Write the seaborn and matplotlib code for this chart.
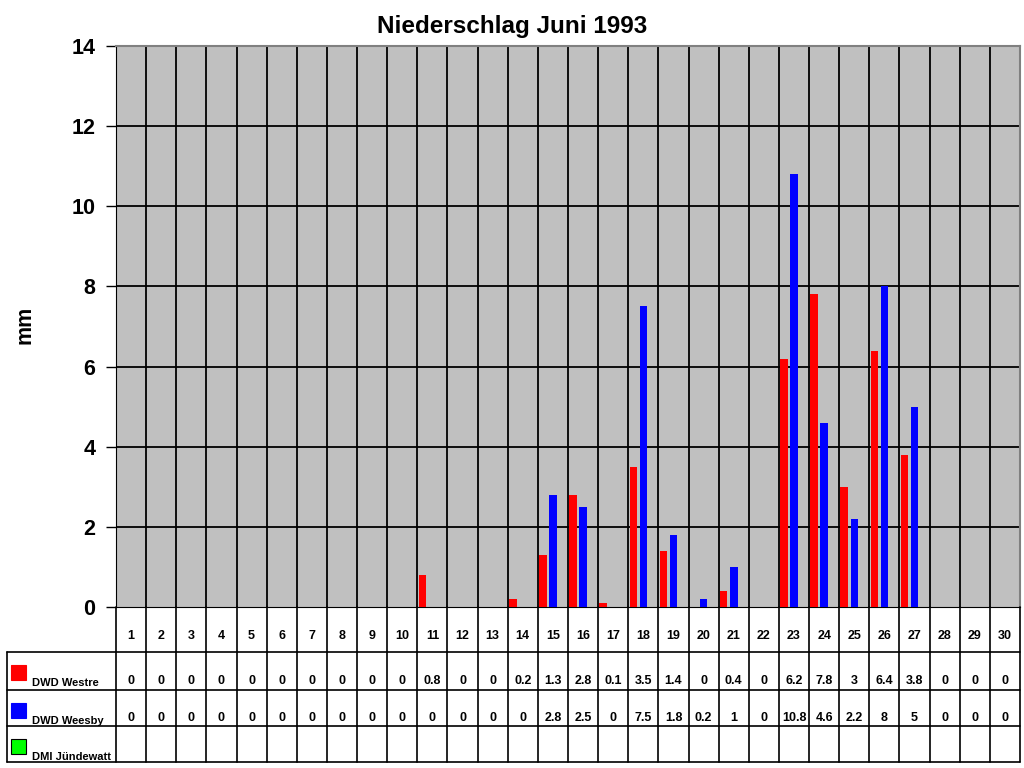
import numpy as np
import pandas as pd
import matplotlib
matplotlib.use("Agg")
import matplotlib.pyplot as plt
import seaborn as sns

# Niederschlag Juni 1993 (mm per day)
days = list(range(1, 31))
westre = [0, 0, 0, 0, 0, 0, 0, 0, 0, 0, 0.8, 0, 0, 0.2, 1.3, 2.8, 0.1, 3.5, 1.4, 0,
          0.4, 0, 6.2, 7.8, 3, 6.4, 3.8, 0, 0, 0]
weesby = [0, 0, 0, 0, 0, 0, 0, 0, 0, 0, 0, 0, 0, 0, 2.8, 2.5, 0, 7.5, 1.8, 0.2,
          1, 0, 10.8, 4.6, 2.2, 8, 5, 0, 0, 0]
juendewatt = [np.nan] * 30
stations = ["DWD Westre", "DWD Weesby", "DMI Jündewatt"]
colors = ["#FF0000", "#0000FF", "#00FF00"]

df = pd.DataFrame({
    "Tag": [str(d) for d in days] * 3,
    "mm": westre + weesby + juendewatt,
    "Station": np.repeat(stations, 30),
})

sns.set_style("white")
plt.rcParams["font.family"] = ["Liberation Sans", "DejaVu Sans"]
plt.rcParams["font.weight"] = "bold"
for key in ["text.color", "axes.labelcolor", "xtick.color", "ytick.color"]:
    plt.rcParams[key] = "black"

W, H = 1024, 768
fig = plt.figure(figsize=(W / 100, H / 100), dpi=100)
L, R, T, B = 116, 1020, 46, 607
ax = fig.add_axes([L / W, 1 - B / H, (R - L) / W, (B - T) / H])

sns.barplot(data=df, x="Tag", y="mm", hue="Station", hue_order=stations,
            order=[str(d) for d in days], palette=colors, width=1.0, gap=0.25,
            saturation=1, errorbar=None, legend=False, ax=ax, zorder=3,
            linewidth=0, edgecolor="none")

ax.set_facecolor("#C0C0C0")
ax.set_xlim(-0.5, 29.5)
ax.set_ylim(0, 14)
ax.set_yticks(range(0, 15, 2))
ax.set_xticks([])
ax.set_xlabel("")
ax.set_ylabel("")
ax.tick_params(axis="y", labelsize=15.5, length=7, width=1, direction="out", pad=8,
               left=True, colors="black")
for lab in ax.get_yticklabels():
    lab.set_fontweight("bold")
for y in range(2, 15, 2):
    ax.axhline(y, color="black", lw=1.3, zorder=1)
for k in range(1, 30):
    ax.axvline(k - 0.5, color="black", lw=1.3, zorder=1)
for side in ["top", "right"]:
    ax.spines[side].set_color("#808080")
    ax.spines[side].set_linewidth(1.5)
ax.spines["left"].set_color("black")
ax.spines["bottom"].set_color("black")

fig.text(512 / W, 1 - 27 / H, "Niederschlag Juni 1993", ha="center", va="center",
         fontsize=17.5, fontweight="bold", color="black")
fig.text(25 / W, 1 - 325 / H, "mm", ha="center", va="center", rotation=90,
         fontsize=15.5, fontweight="bold", color="black")

# data table below the chart
tab = fig.add_axes([0, 0, 1, 1])
tab.set_xlim(0, W)
tab.set_ylim(H, 0)
tab.axis("off")
colw = (R - L) / 30
rows = [607, 652, 690, 726, 762]
lk = dict(color="black", lw=1.2)
tab.plot([L, L], [rows[0], rows[-1]], **lk)
tab.plot([7, 7], [rows[1], rows[-1]], **lk)
for k in range(1, 31):
    x = L + k * colw
    tab.plot([x, x], [rows[0], rows[-1]], **lk)
for y in rows[1:]:
    tab.plot([7, R], [y, y], **lk)

tk = dict(ha="center", va="center", fontsize=9, fontweight="bold", color="black")
for i, d in enumerate(days):
    cx = L + (i + 0.5) * colw
    tab.text(cx, 636, str(d), **tk)
    tab.text(cx, 681, f"{westre[i]:g}", **tk)
    tab.text(cx, 718, f"{weesby[i]:g}", **tk)

for j, (name, col) in enumerate(zip(stations, colors)):
    ytop = rows[j + 1]
    tab.add_patch(plt.Rectangle((11, ytop + 13), 15, 15, facecolor=col,
                                edgecolor="black" if j == 2 else col, lw=0.8))
    tab.text(32, ytop + 31, name, ha="left", va="center", fontsize=8, fontweight="bold",
             color="black")

fig.savefig("out.png", dpi=100)
